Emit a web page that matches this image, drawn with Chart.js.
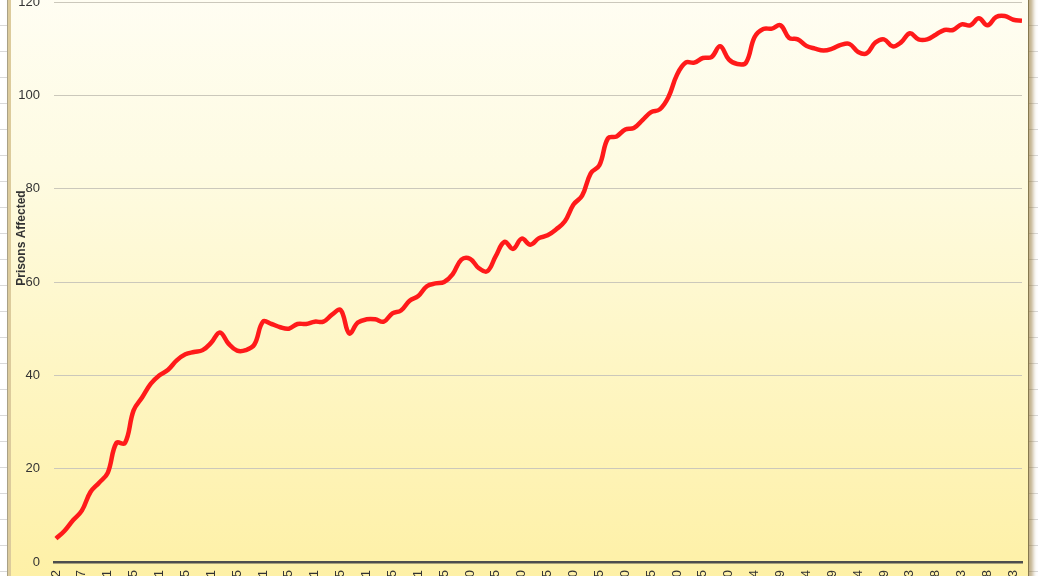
<!DOCTYPE html>
<html>
<head>
<meta charset="utf-8">
<script src="https://cdn.jsdelivr.net/npm/chart.js@4.4.1/dist/chart.umd.min.js"></script>
<style>
  html, body {
    margin: 0;
    width: 1038px;
    height: 576px;
    overflow: hidden;
    background: #fff repeating-linear-gradient(#fff 0px, #fff 25px, #d9d9d9 25px, #d9d9d9 26px);
  }
  #frame {
    position: absolute;
    left: 7px;
    top: -30px;
    width: 1020px;
    height: 660px;
    border-left: 1px solid #a9a186;
    border-right: 1px solid #86784f;
    box-shadow: inset 3px 0 0 #dccb9c, 4px 0 4px rgba(140, 110, 40, 0.55);
    background: linear-gradient(#fffef5 0%, #fefbe2 30%, #fef6c4 60%, #feef9f 100%);
  }
  #wrap {
    position: absolute;
    left: 0;
    top: -40px;
    width: 1038px;
    height: 700px;
  }
</style>
</head>
<body>
<div id="frame"></div>
<div id="wrap"><canvas id="chart"></canvas></div>
<script>
// x tick labels, one every third point
const tickLabels = ['3/22', '3/27', '4/1', '4/5', '4/11', '4/15', '4/21', '4/25', '5/1', '5/5',
  '5/11', '5/15', '5/21', '5/25', '5/31', '6/5', '6/10', '6/15', '6/20', '6/25',
  '6/30', '7/5', '7/10', '7/15', '7/20', '7/25', '7/30', '8/4', '8/9', '8/14',
  '8/19', '8/24', '8/29', '9/3', '9/8', '9/13', '9/18', '9/23'];

// prisons affected
const prisonsAffected = [
  5, 6.7, 9, 11, 15, 17, 19.1, 25.5, 25.5, 32.5,
  35.3, 38.2, 40, 41.2, 43.2, 44.5, 45, 45.4, 47, 49.2,
  46.8, 45.3, 45.4, 46.6, 51.5, 51, 50.3, 50, 51, 51,
  51.5, 51.5, 53, 54, 49, 51.3, 52, 52, 51.5, 53.3,
  53.9, 56, 57, 59.1, 59.7, 60, 61.7, 64.8, 65, 63,
  62.3, 65.6, 68.6, 67.1, 69.3, 68, 69.4, 70, 71.3, 73,
  76.6, 78.5, 83.3, 85, 90.8, 91.2, 92.7, 93, 94.7, 96.4,
  97, 99.6, 104.4, 107, 107, 108, 108.2, 110.5, 107.7, 106.7,
  107, 112.5, 114.2, 114.3, 115, 112.3, 112, 110.6, 110, 109.6,
  110, 110.8, 111, 109.3, 109, 111.3, 112, 110.5, 111.4, 113.3,
  112, 112, 113, 114, 114, 115.2, 115, 116.5, 115, 116.8,
  117, 116.2, 116
];

const yTicks = [0, 20, 40, 60, 80, 100, 120];

const yTitlePlugin = {
  id: 'yTitle',
  afterDraw(chart) {
    const ctx = chart.ctx;
    ctx.save();
    ctx.translate(22, 278);
    ctx.rotate(-Math.PI / 2);
    ctx.font = 'bold 12px "Liberation Sans", Arial, sans-serif';
    ctx.fillStyle = '#333333';
    ctx.textAlign = 'center';
    ctx.textBaseline = 'middle';
    ctx.fillText('Prisons Affected', 0, 0);
    ctx.restore();
  }
};

new Chart(document.getElementById('chart'), {
  type: 'line',
  data: {
    datasets: [{
      label: 'Prisons Affected',
      data: prisonsAffected.map((v, i) => ({ x: i, y: v })),
      borderColor: '#ff1a1a',
      borderWidth: 4.5,
      tension: 0.4,
      pointRadius: 0,
      fill: false
    }]
  },
  options: {
    responsive: true,
    maintainAspectRatio: false,
    animation: false,
    devicePixelRatio: 1,
    layout: { padding: { left: 0, right: 16, top: 42, bottom: 0 } },
    plugins: {
      legend: { display: false },
      tooltip: { enabled: false }
    },
    scales: {
      x: {
        type: 'linear',
        min: -0.23,
        max: 112,
        grid: { display: false, drawTicks: false },
        border: { display: true, color: '#4d4d4d', width: 2.5 },
        afterBuildTicks: (scale) => {
          scale.ticks = tickLabels.map((_, k) => ({ value: k * 3 }));
        },
        afterFit: (scale) => { scale.height = 98; },
        ticks: {
          autoSkip: false,
          minRotation: 90,
          maxRotation: 90,
          padding: 8,
          color: '#333333',
          font: { family: '"Liberation Sans", Arial, sans-serif', size: 13 },
          callback: (value, index) => tickLabels[index]
        }
      },
      y: {
        min: 0,
        max: 120,
        afterBuildTicks: (scale) => {
          scale.ticks = yTicks.map(v => ({ value: v }));
        },
        afterFit: (scale) => { scale.width = 54; },
        grid: { color: '#cbc8bb', lineWidth: 1, drawTicks: false },
        border: { display: false },
        ticks: {
          padding: 14,
          color: '#333333',
          font: { family: '"Liberation Sans", Arial, sans-serif', size: 13 }
        }
      }
    }
  },
  plugins: [yTitlePlugin]
});
</script>
</body>
</html>
